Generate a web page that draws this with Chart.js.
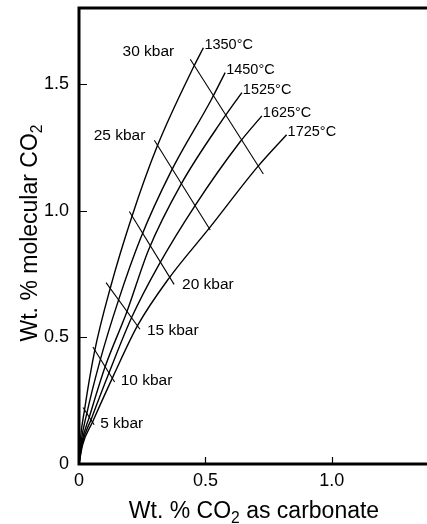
<!DOCTYPE html>
<html>
<head>
<meta charset="utf-8">
<title>Molecular CO2 vs carbonate</title>
<script src="https://cdn.jsdelivr.net/npm/chart.js@4.4.0/dist/chart.umd.min.js"></script>
<style>
    html, body { margin: 0; padding: 0; background: #fff; overflow: hidden; }
    #wrap { width: 440px; height: 524px; }
</style>
</head>
<body>
<div id="wrap"><canvas id="chart" width="440" height="524"></canvas></div>
<script>
// Isotherms: wt.% CO2 as carbonate (x) vs wt.% molecular CO2 (y)
const temperatureLabels = ['1350°C', '1450°C', '1525°C', '1625°C', '1725°C'];
const carbonate1350 = [0, 0.005, 0.022, 0.061, 0.123, 0.209, 0.310, 0.453, 0.492];
const molecular1350 = [0, 0.090, 0.215, 0.442, 0.692, 0.976, 1.256, 1.567, 1.643];
const carbonate1450 = [0, 0.008, 0.031, 0.083, 0.156, 0.244, 0.364, 0.522, 0.578];
const molecular1450 = [0, 0.085, 0.200, 0.407, 0.646, 0.892, 1.155, 1.436, 1.545];
const carbonate1525 = [0, 0.010, 0.041, 0.103, 0.189, 0.275, 0.404, 0.569, 0.644];
const molecular1525 = [0, 0.080, 0.186, 0.383, 0.600, 0.845, 1.105, 1.361, 1.466];
const carbonate1625 = [0, 0.012, 0.048, 0.120, 0.209, 0.314, 0.459, 0.635, 0.723];
const molecular1625 = [0, 0.078, 0.176, 0.363, 0.580, 0.783, 1.020, 1.269, 1.374];
const carbonate1725 = [0, 0.014, 0.054, 0.136, 0.232, 0.354, 0.516, 0.706, 0.821];
const molecular1725 = [0, 0.075, 0.167, 0.348, 0.547, 0.731, 0.932, 1.173, 1.300];

// Isobars (straight segments)
const pressureLabels = ['5 kbar', '10 kbar', '15 kbar', '20 kbar', '25 kbar', '30 kbar'];
const isobarStartX = [0.016, 0.055, 0.107, 0.199, 0.298, 0.440];
const isobarStartY = [0.223, 0.462, 0.716, 0.997, 1.278, 1.598];
const isobarEndX = [0.060, 0.141, 0.241, 0.376, 0.519, 0.729];
const isobarEndY = [0.155, 0.324, 0.532, 0.709, 0.924, 1.145];

// Axis ticks
const xTicks = [0, 0.5, 1.0];
const xTickLabels = ['0', '0.5', '1.0'];
const yTicks = [0, 0.5, 1.0, 1.5];
const yTickLabels = ['0', '0.5', '1.0', '1.5'];

const FONT = "'Liberation Sans', Arial, Helvetica, sans-serif";

// label placement (px offsets from the anchored end of each isobar)
const isobarLabelAtStart = [false, false, false, false, true, true];
const isobarLabelDx = [6, 6, 7, 8, -9, -16];
const isobarLabelDy = [-1, -1, 1, 0, -5, -7];

const curves = [
    [carbonate1350, molecular1350],
    [carbonate1450, molecular1450],
    [carbonate1525, molecular1525],
    [carbonate1625, molecular1625],
    [carbonate1725, molecular1725]
];

const datasets = [];
curves.forEach(([xs, ys], i) => {
    datasets.push({
        label: temperatureLabels[i],
        kind: 'isotherm',
        data: xs.map((x, j) => ({ x: x, y: ys[j] })),
        showLine: true,
        borderColor: '#000',
        borderWidth: 1.4,
        pointRadius: 0,
        cubicInterpolationMode: 'monotone'
    });
});
pressureLabels.forEach((p, i) => {
    datasets.push({
        label: p,
        kind: 'isobar',
        index: i,
        data: [
            { x: isobarStartX[i], y: isobarStartY[i] },
            { x: isobarEndX[i], y: isobarEndY[i] }
        ],
        showLine: true,
        borderColor: '#000',
        borderWidth: 1.1,
        pointRadius: 0
    });
});

// write text with a subscript part, centred on cx
function drawRichText(ctx, parts, cx, baseline, size) {
    const widths = parts.map(p => {
        ctx.font = (p.sub ? size * 0.68 : size) + 'px ' + FONT;
        return ctx.measureText(p.text).width;
    });
    let x = cx - widths.reduce((a, b) => a + b, 0) / 2;
    parts.forEach((p, i) => {
        ctx.font = (p.sub ? size * 0.68 : size) + 'px ' + FONT;
        ctx.fillText(p.text, x, baseline + (p.sub ? size * 0.22 : 0));
        x += widths[i];
    });
}

const framePlugin = {
    id: 'frame',
    afterDraw(chart) {
        const { ctx, chartArea: a, scales } = chart;
        ctx.save();
        ctx.strokeStyle = '#000';
        ctx.lineWidth = 3;
        ctx.strokeRect(a.left, a.top, a.right - a.left, a.bottom - a.top);

        // inward ticks
        ctx.lineWidth = 1.2;
        ctx.beginPath();
        xTicks.forEach(v => {
            if (v === 0) return;
            const px = Math.round(scales.x.getPixelForValue(v)) + 0.5;
            ctx.moveTo(px, a.bottom);
            ctx.lineTo(px, a.bottom - 7);
        });
        yTicks.forEach(v => {
            if (v === 0) return;
            const py = Math.round(scales.y.getPixelForValue(v)) + 0.5;
            ctx.moveTo(a.left, py);
            ctx.lineTo(a.left + 8, py);
        });
        ctx.stroke();

        // axis titles
        ctx.fillStyle = '#000';
        ctx.textBaseline = 'alphabetic';
        ctx.textAlign = 'left';
        drawRichText(ctx, [
            { text: 'Wt. % CO' }, { text: '2', sub: true }, { text: ' as carbonate' }
        ], 254, 518, 23);

        ctx.translate(37, 233);
        ctx.rotate(-Math.PI / 2);
        drawRichText(ctx, [
            { text: 'Wt. % molecular CO' }, { text: '2', sub: true }
        ], 0, 0, 23);
        ctx.restore();
    }
};

const labelPlugin = {
    id: 'curveLabels',
    afterDatasetsDraw(chart) {
        const { ctx } = chart;
        ctx.save();
        ctx.fillStyle = '#000';
        ctx.textBaseline = 'middle';
        chart.data.datasets.forEach((ds, i) => {
            const pts = chart.getDatasetMeta(i).data;
            if (ds.kind === 'isotherm') {
                const p = pts[pts.length - 1];
                ctx.font = '14.5px ' + FONT;
                ctx.textAlign = 'left';
                ctx.fillText(ds.label, p.x + 1, p.y - 3);
            } else {
                const k = ds.index;
                const p = isobarLabelAtStart[k] ? pts[0] : pts[pts.length - 1];
                ctx.font = '15.5px ' + FONT;
                ctx.textAlign = isobarLabelAtStart[k] ? 'right' : 'left';
                ctx.fillText(ds.label, p.x + isobarLabelDx[k], p.y + isobarLabelDy[k]);
            }
        });
        ctx.restore();
    }
};

new Chart(document.getElementById('chart').getContext('2d'), {
    type: 'scatter',
    data: { datasets: datasets },
    options: {
        responsive: false,
        animation: false,
        devicePixelRatio: 1,
        layout: { padding: { top: 8, right: 7, left: 0, bottom: 0 } },
        plugins: {
            legend: { display: false },
            tooltip: { enabled: false }
        },
        scales: {
            x: {
                type: 'linear',
                min: 0,
                max: 1.4,
                afterBuildTicks: s => { s.ticks = xTicks.map(v => ({ value: v })); },
                afterFit: s => { s.height = 60; s.paddingLeft = 0; s.paddingRight = 0; },
                ticks: {
                    callback: v => xTickLabels[xTicks.indexOf(v)],
                    font: { family: FONT, size: 18 },
                    color: '#000',
                    padding: 6,
                    maxRotation: 0,
                    autoSkip: false
                },
                grid: { display: false, drawTicks: false },
                border: { display: false }
            },
            y: {
                type: 'linear',
                min: 0,
                max: 1.8,
                afterBuildTicks: s => { s.ticks = yTicks.map(v => ({ value: v })); },
                afterFit: s => { s.width = 79; s.paddingTop = 0; s.paddingBottom = 0; },
                ticks: {
                    callback: v => yTickLabels[yTicks.indexOf(v)],
                    font: { family: FONT, size: 18 },
                    color: '#000',
                    padding: 10,
                    autoSkip: false
                },
                grid: { display: false, drawTicks: false },
                border: { display: false }
            }
        }
    },
    plugins: [framePlugin, labelPlugin]
});
</script>
</body>
</html>
